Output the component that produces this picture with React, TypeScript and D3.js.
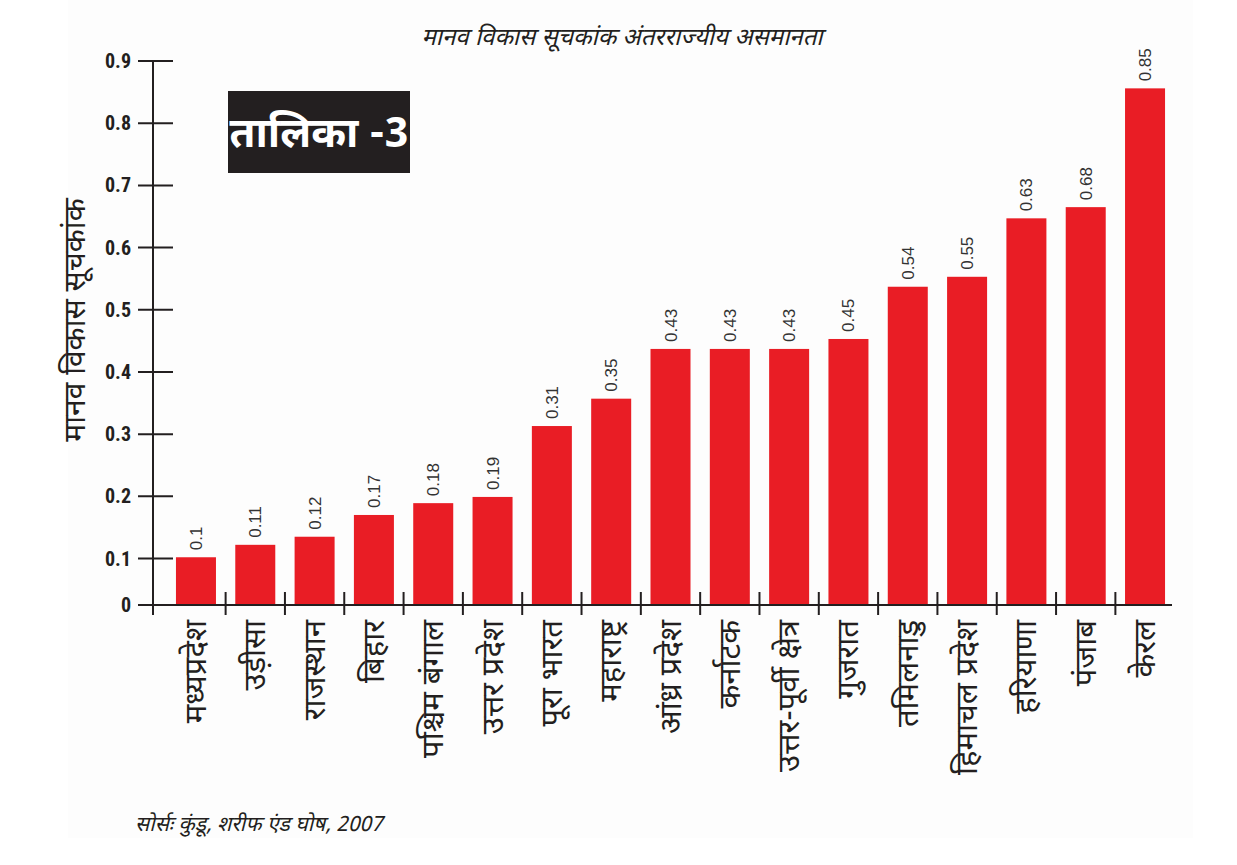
import React from "react";
import * as d3 from "d3";

const categories = [
  "मध्यप्रदेश",
  "उड़ीसा",
  "राजस्थान",
  "बिहार",
  "पश्चिम बंगाल",
  "उत्तर प्रदेश",
  "पूरा भारत",
  "महाराष्ट्र",
  "आंध्र प्रदेश",
  "कर्नाटक",
  "उत्तर-पूर्वी क्षेत्र",
  "गुजरात",
  "तमिलनाडु",
  "हिमाचल प्रदेश",
  "हरियाणा",
  "पंजाब",
  "केरल",
];

// bar heights as drawn in the picture
const barValues = [0.102, 0.122, 0.135, 0.17, 0.189, 0.199, 0.313, 0.357, 0.437, 0.437, 0.437, 0.453, 0.537, 0.553, 0.647, 0.665, 0.856];
// printed value labels
const valueLabels = ["0.1", "0.11", "0.12", "0.17", "0.18", "0.19", "0.31", "0.35", "0.43", "0.43", "0.43", "0.45", "0.54", "0.55", "0.63", "0.68", "0.85"];

const yTicks = [0, 0.1, 0.2, 0.3, 0.4, 0.5, 0.6, 0.7, 0.8, 0.9];
const yTickLabels = ["0", "0.1", "0.2", "0.3", "0.4", "0.5", "0.6", "0.7", "0.8", "0.9"];

const title = "मानव विकास सूचकांक अंतरराज्यीय असमानता";
const yTitle = "मानव विकास सूचकांक";
const badge = "तालिका -3";
const source = "सोर्सः कुंडू, शरीफ एंड घोष, 2007";

const W = 1237;
const H = 865;
const DEV = '"Noto Sans Devanagari", "Lohit Devanagari", "Mangal", "FreeSans", "Noto Sans", sans-serif';
const NUM = '"Liberation Sans Narrow", "Arial Narrow", "Roboto Condensed", "Liberation Sans", Arial, sans-serif';
const AXIS = "#231f20";
const RED = "#e91d25";

export default function App() {
  const y = d3.scaleLinear().domain([0, 0.1, 0.9]).range([605, 558.5, 61]);
  const x = d3
    .scaleBand<string>()
    .domain(categories)
    .range([166.3, 1174.7])
    .paddingInner(0.3256)
    .paddingOuter(0.1628);
  const step = x.step();
  const bw = x.bandwidth();
  const x0 = 153;
  const baseY = y(0);
  const boundaries = categories.slice(0, -1).map((c) => (x(c) as number) + bw + (step - bw) / 2);

  return (
    <svg
      width={W}
      height={H}
      viewBox={`0 0 ${W} ${H}`}
      style={{ position: "absolute", left: 0, top: 0, background: "#ffffff" }}
    >
      <rect x={68} y={0} width={1125} height={838} fill="#fdfdfd" />
      {/* title */}
      <text x={622} y={45} textAnchor="middle" fontFamily={DEV} fontStyle="italic" fontSize={24} fill="#231f20">
        {title}
      </text>

      {/* badge */}
      <rect x={228} y={91} width={182} height={82} fill="#231f20" />
      <text x={319} y={147} textAnchor="middle" fontFamily={DEV} fontWeight="bold" fontSize={42} fill="#ffffff">
        {badge}
      </text>

      {/* y-axis title */}
      <text
        transform={`translate(85, ${320}) rotate(-90)`}
        textAnchor="middle"
        fontFamily={DEV}
        fontSize={30}
        fill="#231f20"
      >
        {yTitle}
      </text>

      {/* bars */}
      {categories.map((c, i) => (
        <rect
          key={c}
          x={x(c) as number}
          y={y(barValues[i])}
          width={bw}
          height={baseY - y(barValues[i])}
          fill={RED}
        />
      ))}

      {/* value labels */}
      {categories.map((c, i) => {
        const cx = (x(c) as number) + bw / 2;
        const ty = y(barValues[i]) - 7;
        return (
          <text
            key={"v" + c}
            transform={`translate(${cx + 6}, ${ty}) rotate(-90)`}
            textAnchor="start"
            fontFamily='"Liberation Sans", Arial, sans-serif'
            fontSize={17}
            fill="#333333"
          >
            {valueLabels[i]}
          </text>
        );
      })}

      {/* y axis */}
      <line x1={x0} x2={x0} y1={y(0.9)} y2={615} stroke={AXIS} strokeWidth={2} />
      {yTicks.map((t, i) => (
        <g key={"yt" + i}>
          <line x1={138} x2={173} y1={y(t)} y2={y(t)} stroke={AXIS} strokeWidth={2} />
          <text
            x={131}
            y={y(t) + 7}
            textAnchor="end"
            fontFamily={NUM}
            fontWeight="bold"
            fontSize={20}
            fill="#231f20"
          >
            {yTickLabels[i]}
          </text>
        </g>
      ))}

      {/* x axis */}
      <line x1={138} x2={1172} y1={baseY} y2={baseY} stroke={AXIS} strokeWidth={2} />
      {boundaries.map((bx, i) => (
        <line key={"xt" + i} x1={bx} x2={bx} y1={592} y2={615} stroke={AXIS} strokeWidth={2} />
      ))}

      {/* category labels */}
      {categories.map((c) => {
        const cx = (x(c) as number) + bw / 2;
        return (
          <text
            key={"c" + c}
            transform={`translate(${cx + 10}, 620) rotate(-90)`}
            textAnchor="end"
            fontFamily={DEV}
            fontSize={31}
            fill="#231f20"
          >
            {c}
          </text>
        );
      })}

      {/* source */}
      <text x={135} y={831} fontFamily={DEV} fontStyle="italic" fontSize={21} fill="#231f20">
        {source}
      </text>
    </svg>
  );
}
